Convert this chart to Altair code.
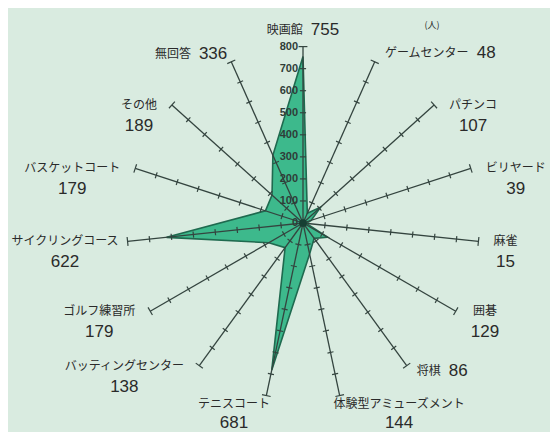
import math
import altair as alt
import pandas as pd

# ---- data ----
categories = ["映画館", "ゲームセンター", "パチンコ", "ビリヤード", "麻雀", "囲碁", "将棋",
              "体験型アミューズメント", "テニスコート", "バッティングセンター", "ゴルフ練習所",
              "サイクリングコース", "バスケットコート", "その他", "無回答"]
values = [755, 48, 107, 39, 15, 129, 86, 144, 681, 138, 179, 622, 179, 189, 336]
scale_ticks = [0, 100, 200, 300, 400, 500, 600, 700, 800]
unit_label = "(人)"
inline_labels = {"映画館", "ゲームセンター", "将棋", "無回答"}

# ---- layout ----
N = len(categories)
RMAX = 800
W, H = 542, 424
CX, CY = 295, 215            # centre in view pixels
PX = 0.2205                  # pixels per data unit
R_PX = RMAX * PX
xdom = [-CX / PX, (W - CX) / PX]
ydom = [-(H - CY) / PX, CY / PX]
FS_NAME, FS_VAL = 12, 17
GAP, SP = 15, 8

BG = "#d9ebe0"
FILL = "#3db98c"
EDGE = "#1f6a4f"
LINE = "#34443f"
TXT = "#2a2a2a"

base_df = pd.DataFrame({"idx": range(N), "cat": categories, "val": values})

tick_rows = []
for i in range(N):
    for t in scale_ticks[1:]:
        tick_rows.append({"idx": i, "r": t, "h": 20 if t == RMAX else 14})
tick_df = pd.DataFrame(tick_rows)

def name_w(s):
    return sum(FS_NAME if ord(c) > 255 else FS_NAME * 0.55 for c in s)

def val_w(v):
    return len(str(v)) * FS_VAL * 0.556

lab_rows = []
for i, (c, v) in enumerate(zip(categories, values)):
    th = 2 * math.pi * i / N
    s, co = math.sin(th), math.cos(th)
    ex, ey = R_PX * s, -R_PX * co
    side = 0 if abs(s) < 0.3 else (1 if s > 0 else -1)
    nw, vw = name_w(c), val_w(v)
    if c in inline_labels:
        total = nw + SP + vw
        if side == 0:
            left = ex - total / 2
            y = ey - 17
        elif side > 0:
            left = ex + 10
            y = ey - 9 if co > 0 else ey + 5
        else:
            left = ex - 4 - total
            y = ey - 8 if co > 0 else ey + 5
        nx, vx = left + nw / 2, left + nw + SP + vw / 2
        ny = vy = y
    else:
        w = max(nw, vw)
        if side == 0:
            cx_ = ex + (1 if s > 0 else -1) * w * 0.45
            ny = ey + 8
            vy = ny + 19
        else:
            cx_ = ex + side * (GAP + w / 2)
            ny = ey
            vy = ny + 21
        # keep the block inside the drawing
        cx_ = max(cx_, -CX + 3 + w / 2)
        cx_ = min(cx_, W - CX - 3 - w / 2)
        nx = vx = cx_
    lab_rows.append({"cat": c, "val": str(v),
                     "nx": nx / PX, "ny": -ny / PX, "vx": vx / PX, "vy": -vy / PX})
lab_df = pd.DataFrame(lab_rows)

xs = alt.Scale(domain=xdom, nice=False, zero=False)
ys = alt.Scale(domain=ydom, nice=False, zero=False)

theta = f"datum.idx * 2 * PI / {N}"

poly = alt.Chart(base_df).transform_calculate(
    th=theta
).transform_calculate(
    x="datum.val * sin(datum.th)", y="datum.val * cos(datum.th)"
).mark_line(interpolate="linear-closed", fill=FILL, stroke=EDGE, strokeWidth=1.6).encode(
    x=alt.X("x:Q", scale=xs, axis=None),
    y=alt.Y("y:Q", scale=ys, axis=None),
    order=alt.Order("idx:Q"),
)

axes = alt.Chart(base_df).transform_calculate(
    th=theta
).transform_calculate(
    x0="0", y0="0", x1=f"{RMAX} * sin(datum.th)", y1=f"{RMAX} * cos(datum.th)"
).mark_rule(color=LINE, strokeWidth=1.3).encode(
    x=alt.X("x0:Q", scale=xs, axis=None), y=alt.Y("y0:Q", scale=ys, axis=None),
    x2="x1:Q", y2="y1:Q",
)

ticks = alt.Chart(tick_df).transform_calculate(
    th=theta
).transform_calculate(
    xa="datum.r * sin(datum.th) + datum.h * cos(datum.th)",
    ya="datum.r * cos(datum.th) - datum.h * sin(datum.th)",
    xb="datum.r * sin(datum.th) - datum.h * cos(datum.th)",
    yb="datum.r * cos(datum.th) + datum.h * sin(datum.th)",
).mark_rule(color=LINE, strokeWidth=1.2).encode(
    x=alt.X("xa:Q", scale=xs, axis=None), y=alt.Y("ya:Q", scale=ys, axis=None),
    x2="xb:Q", y2="yb:Q",
)

centre = alt.Chart(pd.DataFrame({"x": [0], "y": [0]})).mark_point(
    filled=True, color="#163f33", size=60, opacity=1
).encode(x=alt.X("x:Q", scale=xs, axis=None), y=alt.Y("y:Q", scale=ys, axis=None))

scale_lbl = alt.Chart(pd.DataFrame({"t": scale_ticks})).transform_calculate(
    x0="0"
).mark_text(align="right", baseline="middle", dx=-5, fontSize=11, fontWeight="bold",
            font="Liberation Sans", color="#2f3d38").encode(
    x=alt.X("x0:Q", scale=xs, axis=None), y=alt.Y("t:Q", scale=ys, axis=None),
    text="t:Q",
)

names = alt.Chart(lab_df).mark_text(align="center", baseline="middle", fontSize=FS_NAME,
                                    font="Noto Sans CJK JP", color=TXT).encode(
    x=alt.X("nx:Q", scale=xs, axis=None), y=alt.Y("ny:Q", scale=ys, axis=None), text="cat:N"
)
vals = alt.Chart(lab_df).mark_text(align="center", baseline="middle", fontSize=FS_VAL,
                                   font="Liberation Sans", color=TXT).encode(
    x=alt.X("vx:Q", scale=xs, axis=None), y=alt.Y("vy:Q", scale=ys, axis=None), text="val:N"
)

unit = alt.Chart(pd.DataFrame({"u": [unit_label]})).mark_text(
    fontSize=9, font="Noto Sans CJK JP", color=TXT
).encode(x=alt.value(424), y=alt.value(17), text="u:N")

chart = alt.layer(poly, axes, ticks, centre, scale_lbl, names, vals, unit).properties(
    width=W, height=H, autosize=alt.AutoSizeParams(type="none"), padding=0,
    background=BG,
).configure_view(stroke=None)

chart.save("out.html", embed_options={"renderer": "svg", "actions": False})
